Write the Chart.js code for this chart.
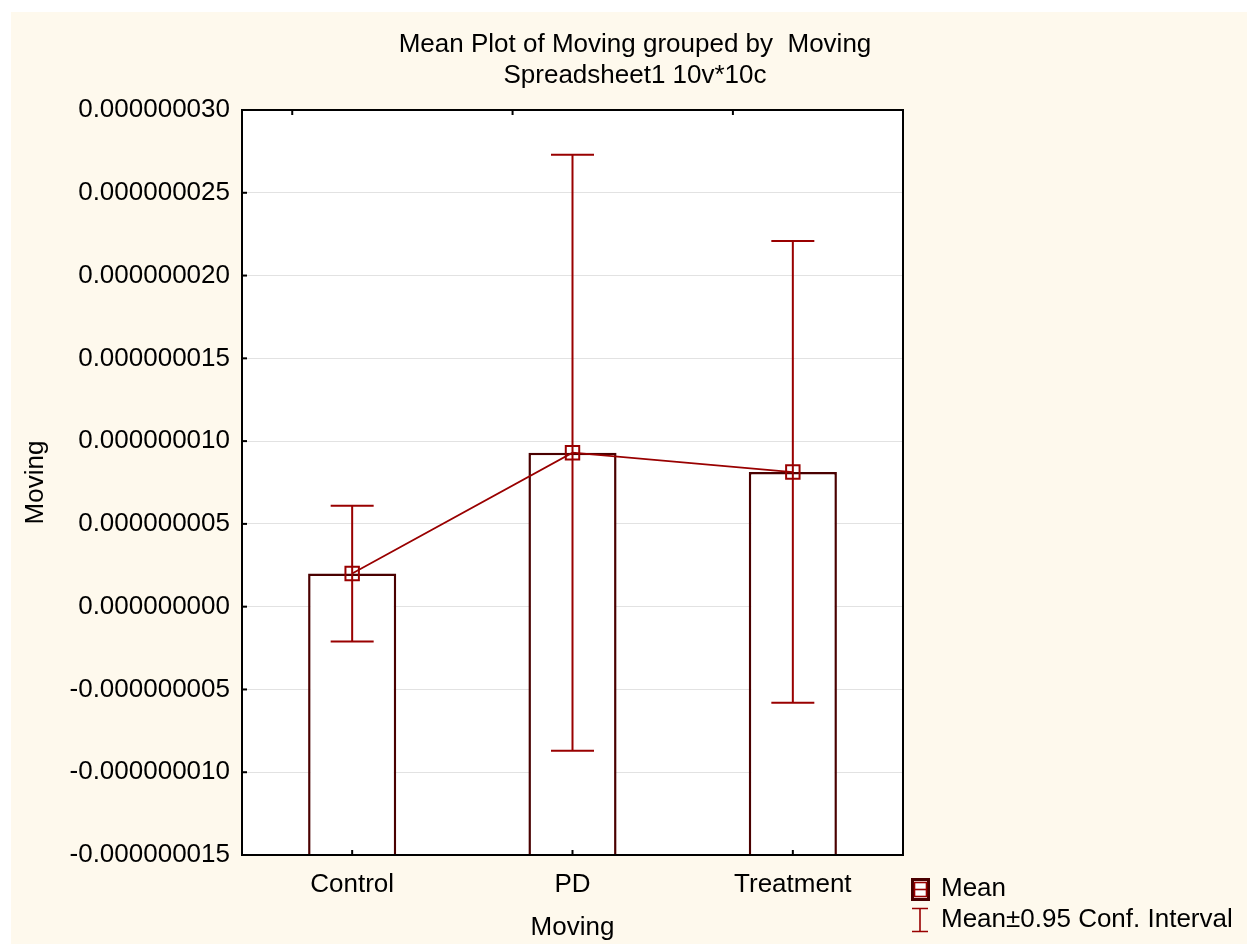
<!DOCTYPE html>
<html>
<head>
<meta charset="utf-8">
<script src="https://cdn.jsdelivr.net/npm/chart.js@4/dist/chart.umd.min.js"></script>
<style>
html,body{margin:0;padding:0;background:#ffffff;}
#wrap{width:1248px;height:944px;position:relative;}
canvas{display:block;}
</style>
</head>
<body>
<div id="wrap"><canvas id="c" width="1248" height="944"></canvas></div>
<script>
// ---- data ----
const categories = ["Control", "PD", "Treatment"];
const means = [2.0e-9, 9.3e-9, 8.13e-9];
const ciLower = [-2.1e-9, -8.7e-9, -5.8e-9];
const ciUpper = [6.1e-9, 27.3e-9, 22.08e-9];
const yMin = -15e-9, yMax = 30e-9, yStep = 5e-9;
const titleLines = ["Mean Plot of Moving grouped by  Moving", "Spreadsheet1 10v*10c"];
const xTitle = "Moving", yTitle = "Moving";
const legendLabels = ["Mean", "Mean\u00b10.95 Conf. Interval"];

const FONT = "'Liberation Sans', Arial, sans-serif";
const FS = 26;
const ERR = "#990000", BAR = "#4a0000";

const decor = {
  id: 'decor',
  beforeDraw(chart) {
    const ctx = chart.ctx, a = chart.chartArea;
    ctx.save();
    ctx.fillStyle = '#ffffff';
    ctx.fillRect(0, 0, chart.width, chart.height);
    ctx.fillStyle = '#fef9ed';
    ctx.fillRect(11, 12, chart.width - 12, chart.height - 12);
    ctx.fillStyle = '#ffffff';
    ctx.fillRect(a.left, a.top, a.right - a.left, a.bottom - a.top);
    ctx.restore();
  },
  afterDatasetsDraw(chart) {
    const ctx = chart.ctx, a = chart.chartArea;
    const xs = chart.scales.x, ys = chart.scales.y;
    ctx.save();
    // error bars
    ctx.strokeStyle = ERR; ctx.lineWidth = 2;
    for (let i = 0; i < categories.length; i++) {
      const x = xs.getPixelForValue(i);
      const yl = ys.getPixelForValue(ciLower[i]);
      const yu = ys.getPixelForValue(ciUpper[i]);
      ctx.beginPath();
      ctx.moveTo(x, yl); ctx.lineTo(x, yu);
      ctx.moveTo(x - 21.5, yl); ctx.lineTo(x + 21.5, yl);
      ctx.moveTo(x - 21.5, yu); ctx.lineTo(x + 21.5, yu);
      ctx.stroke();
    }
    // frame
    ctx.strokeStyle = '#000'; ctx.lineWidth = 2;
    ctx.strokeRect(a.left, a.top, a.right - a.left, a.bottom - a.top);
    // y ticks (inward)
    ys.ticks.forEach(t => {
      const y = ys.getPixelForValue(t.value);
      ctx.beginPath(); ctx.moveTo(a.left, y); ctx.lineTo(a.left + 5, y); ctx.stroke();
    });
    // x ticks bottom (inward) and top
    const cw = (a.right - a.left) / categories.length;
    for (let i = 0; i < categories.length; i++) {
      const x = xs.getPixelForValue(i);
      ctx.beginPath(); ctx.moveTo(x, a.bottom); ctx.lineTo(x, a.bottom - 5); ctx.stroke();
      const xt = x - 0.272 * cw;
      ctx.beginPath(); ctx.moveTo(xt, a.top); ctx.lineTo(xt, a.top + 5); ctx.stroke();
    }
    // titles
    ctx.fillStyle = '#000';
    ctx.font = FS + 'px ' + FONT;
    ctx.textAlign = 'center'; ctx.textBaseline = 'middle';
    ctx.fillText(titleLines[0], 635, 45);
    ctx.fillText(titleLines[1], 635, 76);
    ctx.fillText(xTitle, (a.left + a.right) / 2, 928);
    ctx.save();
    ctx.translate(36, (a.top + a.bottom) / 2);
    ctx.rotate(-Math.PI / 2);
    ctx.fillText(yTitle, 0, 0);
    ctx.restore();
    // legend
    ctx.textAlign = 'left';
    ctx.fillText(legendLabels[0], 941, 889);
    ctx.fillText(legendLabels[1], 941, 920);
    // mean icon
    ctx.fillStyle = BAR;
    ctx.fillRect(911, 878, 19, 23);
    ctx.fillStyle = '#ffffff';
    ctx.fillRect(914, 881, 13, 17);
    ctx.strokeStyle = ERR; ctx.lineWidth = 1.6;
    ctx.strokeRect(914.5, 882.5, 12, 14);
    ctx.beginPath(); ctx.moveTo(914, 889.5); ctx.lineTo(927, 889.5); ctx.stroke();
    // CI icon
    ctx.beginPath();
    ctx.moveTo(912, 908.5); ctx.lineTo(928, 908.5);
    ctx.moveTo(920, 908.5); ctx.lineTo(920, 931.5);
    ctx.moveTo(912, 931.5); ctx.lineTo(928, 931.5);
    ctx.stroke();
    ctx.restore();
  }
};

new Chart(document.getElementById('c'), {
  data: {
    labels: categories,
    datasets: [
      {
        type: 'line',
        data: means,
        borderColor: ERR,
        borderWidth: 1.8,
        pointStyle: 'rect',
        pointRadius: 9.5,
        pointBorderWidth: 2,
        pointBorderColor: ERR,
        pointBackgroundColor: 'rgba(0,0,0,0)',
        tension: 0,
        order: 0
      },
      {
        type: 'bar',
        data: means,
        base: yMin,
        backgroundColor: '#ffffff',
        borderColor: BAR,
        borderWidth: 2.5,
        barPercentage: 0.8,
        categoryPercentage: 0.5,
        order: 1
      }
    ]
  },
  options: {
    responsive: false,
    animation: false,
    events: [],
    layout: { padding: { left: 0, top: 110, right: 345, bottom: 0 } },
    plugins: { legend: { display: false }, title: { display: false }, tooltip: { enabled: false } },
    scales: {
      x: {
        type: 'category',
        offset: true,
        grid: { display: false, drawTicks: false },
        border: { display: false },
        ticks: { color: '#000', font: { family: FONT, size: FS }, padding: 14, maxRotation: 0 },
        afterFit(s) { s.height = 89; }
      },
      y: {
        type: 'linear',
        min: yMin, max: yMax,
        grid: { color: '#e2e2e2', lineWidth: 1, drawTicks: false },
        border: { display: false },
        ticks: {
          stepSize: yStep,
          color: '#000',
          font: { family: FONT, size: FS },
          padding: 12,
          callback: v => (Math.abs(v) < 1e-15 ? 0 : v).toFixed(9)
        },
        afterFit(s) { s.width = 242; }
      }
    }
  },
  plugins: [decor]
});
</script>
</body>
</html>
